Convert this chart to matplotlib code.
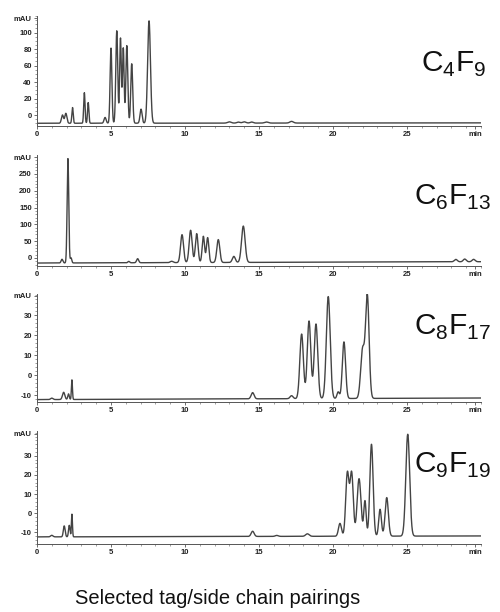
import numpy as np
import matplotlib
matplotlib.use('Agg')
import matplotlib.pyplot as plt
from matplotlib.ticker import FixedLocator, MultipleLocator

plt.rcParams['font.family'] = ['Liberation Sans', 'DejaVu Sans']
plt.rcParams['mathtext.fontset'] = 'custom'
plt.rcParams['mathtext.rm'] = 'Liberation Sans'

# Peak tables: retention time (min), apex (mAU), width (min)
c4_times = [1.72, 1.95, 2.40, 3.20, 3.46, 4.60, 5.00, 5.39, 5.64, 5.83, 6.07, 6.40,
            7.03, 7.57, 13.0, 13.6, 14.0, 14.5, 15.5, 17.2]
c4_apex = [0, 2, 9, 27, 15, -3, 81, 102, 93, 81, 84, 62,
           7, 114, -8.5, -8.8, -8.5, -8.7, -8.7, -8.0]
c4_width = [0.07, 0.07, 0.045, 0.045, 0.045, 0.07, 0.06, 0.065, 0.055, 0.055, 0.065, 0.065,
            0.07, 0.095, 0.12, 0.1, 0.12, 0.1, 0.12, 0.12]
c4_base = (-10.0, -9.5)

c6_times = [1.69, 2.09, 2.30, 6.2, 6.8, 9.1, 9.80, 10.38, 10.79, 11.24, 11.53, 12.25,
            13.3, 13.94, 28.3, 28.9, 29.5]
c6_apex = [-4, 295, 0, -11, -3, -11, 68, 81, 71, 63, 59, 53,
           3, 93, -8, -7, -8]
c6_width = [0.06, 0.055, 0.05, 0.06, 0.07, 0.1, 0.1, 0.1, 0.09, 0.08, 0.08, 0.1,
            0.1, 0.12, 0.1, 0.1, 0.1]
c6_base = (-15.0, -11.0)

c8_times = [1.0, 1.8, 2.13, 2.36, 14.57, 17.2, 17.88, 18.38, 18.85, 19.68, 20.35,
            20.74, 22.0, 22.32]
c8_apex = [-11.6, -8.7, -9.5, -2.5, -9.2, -10.8, 20, 26.5, 25, 38.7, -9,
           16, 12, 38.7]
c8_width = [0.08, 0.08, 0.05, 0.035, 0.1, 0.1, 0.12, 0.12, 0.12, 0.13, 0.08,
            0.11, 0.13, 0.12]
c8_base = (-12.3, -11.5)

c9_times = [1.0, 1.84, 2.18, 2.36, 14.57, 16.2, 18.27, 20.47, 20.97, 21.26, 21.76,
            22.16, 22.60, 23.18, 23.63, 25.05]
c9_apex = [-11.5, -6.6, -6.3, -0.5, -9.6, -11.8, -11, -5.6, 20.5, 20.5, 17.7,
           6, 35.6, 1.7, 7.8, 40.8]
c9_width = [0.08, 0.06, 0.05, 0.035, 0.1, 0.1, 0.12, 0.1, 0.11, 0.11, 0.13,
            0.08, 0.11, 0.09, 0.11, 0.13]
c9_base = (-12.3, -11.8)

labels = ['C$_4$F$_9$', 'C$_6$F$_{13}$', 'C$_8$F$_{17}$', 'C$_9$F$_{19}$']
ytick_vals = [[0, 20, 40, 60, 80, 100],
              [0, 50, 100, 150, 200, 250],
              [-10, 0, 10, 20, 30],
              [-10, 0, 10, 20, 30]]
xtick_vals = [0, 5, 10, 15, 20, 25]

panels = [
    (c4_times, c4_apex, c4_width, c4_base),
    (c6_times, c6_apex, c6_width, c6_base),
    (c8_times, c8_apex, c8_width, c8_base),
    (c9_times, c9_apex, c9_width, c9_base),
]

# layout (pixels of a 500x612 figure)
W, H = 500, 612
rects_px = [(16, 126), (155, 266), (294, 402), (431, 544)]
ylims = [(-13.3, 120), (-23.8, 306), (-13.5, 40.5), (-16, 42.9)]
mau_pos = [117, 300, 39.5, 41.5]
yminor = [5, 10, 2, 2]
label_px = [(421, 72), (414, 205), (414, 335), (414, 473)]

fig = plt.figure(figsize=(5.0, 6.12), dpi=100)
t = np.linspace(0, 30, 6000)

for i, (times, apex, width, base) in enumerate(panels):
    top, bot = rects_px[i]
    ax = fig.add_axes([37 / W, 1 - bot / H, (481 - 37) / W, (bot - top) / H])
    baseline = base[0] + (base[1] - base[0]) * t / 30
    trace = baseline.copy()
    for tc, a, w in zip(times, apex, width):
        trace += (a - base[0]) * np.exp(-0.5 * ((t - tc) / w) ** 2)
    ax.plot(t, trace, color='#444444', lw=1.0)

    ax.set_xlim(0, 30)
    ax.set_ylim(*ylims[i])
    for s in ['top', 'right']:
        ax.spines[s].set_visible(False)
    for s in ['left', 'bottom']:
        ax.spines[s].set_linewidth(0.7)
        ax.spines[s].set_color('#555555')

    ax.xaxis.set_major_locator(FixedLocator(xtick_vals + [29.6]))
    ax.set_xticklabels([str(v) for v in xtick_vals] + ['min'])
    ax.xaxis.set_minor_locator(MultipleLocator(1))
    ax.yaxis.set_major_locator(FixedLocator(ytick_vals[i] + [mau_pos[i]]))
    ax.set_yticklabels([str(v) for v in ytick_vals[i]] + ['mAU'])
    ax.yaxis.set_minor_locator(MultipleLocator(yminor[i]))
    ax.tick_params(which='major', length=2.2, width=0.6, color='#555555',
                   labelsize=5.5, pad=1.5, labelcolor='#222222')
    ax.tick_params(which='minor', length=1.3, width=0.5, color='#777777')
    for lab in ax.get_xticklabels() + ax.get_yticklabels():
        lab.set_fontweight('bold')

    lx, ly = label_px[i]
    fig.text(lx / W, 1 - ly / H, labels[i], fontsize=21.5, va='baseline',
             ha='left', color='#111111')

fig.text(75 / W, 1 - 598 / H, 'Selected tag/side chain pairings', fontsize=14.5,
         va='center', ha='left', color='#111111')

fig.savefig('out.png', dpi=100, facecolor='white')
